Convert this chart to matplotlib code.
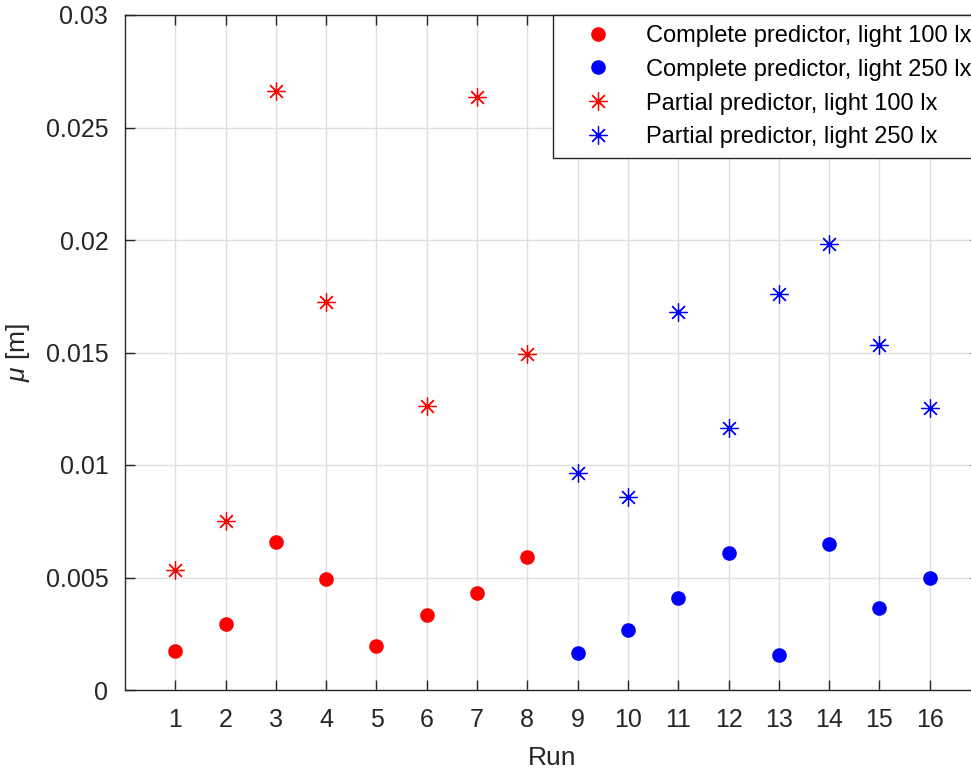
from matplotlib import pyplot as plt
import numpy as np

plt.rcParams['font.family'] = ['Liberation Sans', 'DejaVu Sans']
plt.rcParams['mathtext.fontset'] = 'custom'
plt.rcParams['mathtext.it'] = 'Liberation Sans:italic'

runs_100 = [1, 2, 3, 4, 5, 6, 7, 8]
runs_250 = [9, 10, 11, 12, 13, 14, 15, 16]

complete_100 = [0.00173, 0.00293, 0.00658, 0.00493, 0.00196, 0.00333, 0.00431, 0.00591]
complete_250 = [0.00164, 0.00267, 0.00409, 0.00609, 0.00156, 0.00649, 0.00364, 0.00498]
partial_100 = [0.00533, 0.00751, 0.02662, 0.01724, np.nan, 0.01262, 0.02636, 0.01493]
partial_250 = [0.00964, 0.00858, 0.01680, 0.01164, 0.01760, 0.01982, 0.01533, 0.01253]

labels = ['Complete predictor, light 100 lx', 'Complete predictor, light 250 lx',
          'Partial predictor, light 100 lx', 'Partial predictor, light 250 lx']

y_ticks = [0, 0.005, 0.01, 0.015, 0.02, 0.025, 0.03]
y_ticklabels = ['0', '0.005', '0.01', '0.015', '0.02', '0.025', '0.03']

W, H = 971, 773
fig = plt.figure(figsize=(W / 100, H / 100), dpi=100)
ax = fig.add_axes([125 / W, 1 - 690 / H, (980 - 125) / W, (690 - 15) / H])

dark = '#262626'
star = (8, 2, 0)

ax.plot(runs_100, complete_100, 'o', color='red', markersize=9.5, label=labels[0])
ax.plot(runs_250, complete_250, 'o', color='blue', markersize=9.5, label=labels[1])
ax.plot(runs_100, partial_100, linestyle='none', marker=star, color='red',
        markersize=13, markeredgewidth=0.9, label=labels[2])
ax.plot(runs_250, partial_250, linestyle='none', marker=star, color='blue',
        markersize=13, markeredgewidth=0.9, label=labels[3])

ax.set_xlim(0, 17)
ax.set_ylim(0, 0.03)
ax.set_xticks(range(1, 17))
ax.set_yticks(y_ticks)
ax.set_yticklabels(y_ticklabels)
ax.grid(True, color='#dfdfdf', linewidth=1.0)
ax.set_axisbelow(True)
ax.tick_params(direction='in', length=7, width=1, colors=dark, labelsize=18,
               top=True, right=True)
ax.tick_params(axis='x', pad=13)
ax.tick_params(axis='y', pad=12)
for sp in ax.spines.values():
    sp.set_color(dark)
    sp.set_linewidth(1)

ax.set_xlabel('Run', fontsize=19, color=dark, labelpad=10)
ax.set_ylabel(r'$\mu$ [m]', fontsize=19, color=dark, labelpad=10)

leg = ax.legend(loc='upper left', bbox_to_anchor=(553 / W, 1 - 15 / H),
                bbox_transform=fig.transFigure, fontsize=17, frameon=True,
                fancybox=False, borderaxespad=0, borderpad=0.42,
                handlelength=3.0, handletextpad=0.5, labelspacing=0.5)
leg.get_frame().set_edgecolor(dark)
leg.get_frame().set_linewidth(1)
leg.get_frame().set_alpha(1)

fig.savefig('out.png', dpi=100)
